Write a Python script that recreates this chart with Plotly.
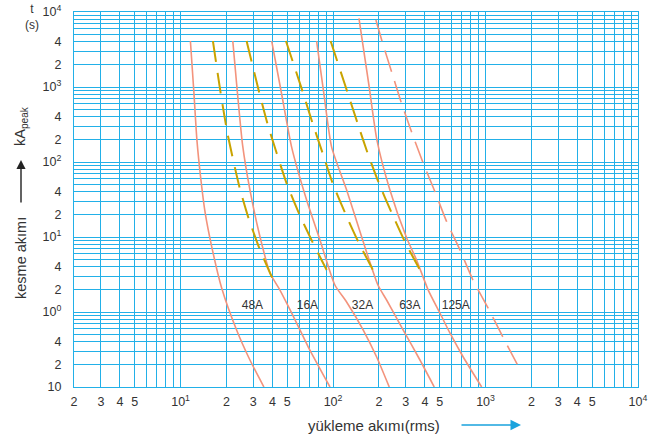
import plotly.graph_objects as go

# ---------------- data (current in A rms, time in s) ----------------
red_1_current = [11.6, 12.2, 12.8, 13.6, 14.5, 16.0, 18.6, 23.3, 28.5, 35.2]
red_1_time = [4100, 912, 196, 57.5, 20.9, 7.43, 2.09, 0.575, 0.229, 0.1]

red_2_current = [22.0, 23.6, 25.5, 28.5, 33.2, 38.6, 44.4, 48.4, 57.7, 68.8, 95.5]
red_2_time = [4100, 832, 169, 42.4, 10, 3.31, 2.03, 1.45, 0.713, 0.341, 0.1]

red_3_current = [39.6, 46.0, 53.5, 67.1, 82.1, 102.8, 122.7, 157.8, 193.2, 233.7]
red_3_time = [4100, 807, 158, 31.1, 9.12, 2.29, 1.36, 0.575, 0.251, 0.1]

red_4_current = [78.0, 87.1, 97.9, 122.8, 154.1, 196.9, 224.5, 288.6, 371.5, 461]
red_4_time = [4100, 807, 158, 42.4, 10, 2.29, 1.445, 0.575, 0.229, 0.1]

red_5_current = [147.9, 171.9, 194, 236, 304, 353, 421, 502, 584, 714, 943]
red_5_time = [8240, 1063, 196, 42.4, 9.7, 4.94, 1.96, 0.97, 0.525, 0.251, 0.1]

red_6_current = [191, 210, 242, 279, 327, 387, 466, 556, 680, 827, 1042, 1296, 1615]
red_6_time = [7820, 4018, 1600, 637, 253, 101, 40.2, 16.0, 6.71, 2.67, 1.12, 0.469, 0.201]

gold_1_current = [16.3, 18.3, 20.4, 24.3, 27.8, 32.7, 39.6, 42.9]
gold_1_time = [4100, 839, 229, 46.9, 18.3, 7.29, 2.96, 2.15]

gold_2_current = [27.1, 32.7, 37.0, 42.7, 49.6, 59.5, 73.1, 90.8]
gold_2_time = [4100, 865, 334, 130.6, 52.0, 21.1, 8.66, 3.63]

gold_3_current = [49.1, 63.2, 73.1, 85.5, 99.4, 119.7, 146.3, 182.7]
gold_3_time = [4100, 865, 338, 130.6, 52.0, 21.1, 8.66, 3.63]

gold_4_current = [96.4, 124, 144.2, 168.7, 200, 242, 296, 371.5]
gold_4_time = [4100, 865, 338, 130.6, 52.0, 21.1, 8.66, 3.63]

rating_labels = ["48A", "16A", "32A", "63A", "125A"]
rating_label_current = [29.6, 67.9, 156, 319, 638]
rating_label_time = [1.21, 1.21, 1.21, 1.21, 1.21]

x_decades = [0, 1, 2, 3]
y_decades = [-1, 0, 1, 2, 3]

# ---------------- styling ----------------
RED = "#f3937c"
GOLD = "#c9a300"
GRID = "#22b0e8"
TXT = "#333333"
FONT = "Liberation Sans, Arial, sans-serif"

W, H = 653, 439
L, R, T, B = 74, 15, 12, 52
PW, PH = W - L - R, H - T - B


def px(x):
    return (x - L) / PW


def py(y):
    return (H - B - y) / PH


fig = go.Figure()

solid = [(red_1_current, red_1_time), (red_2_current, red_2_time),
         (red_3_current, red_3_time), (red_4_current, red_4_time),
         (red_5_current, red_5_time)]
for cx, ty in solid:
    fig.add_trace(go.Scatter(x=cx, y=ty, mode="lines",
                             line=dict(color=RED, width=1.6, shape="spline", smoothing=0.6),
                             hoverinfo="skip"))

fig.add_trace(go.Scatter(x=red_6_current, y=red_6_time, mode="lines",
                         line=dict(color=RED, width=1.6, dash="22px,10px",
                                   shape="spline", smoothing=0.6),
                         hoverinfo="skip"))

for cx, ty in [(gold_1_current, gold_1_time), (gold_2_current, gold_2_time),
               (gold_3_current, gold_3_time), (gold_4_current, gold_4_time)]:
    fig.add_trace(go.Scatter(x=cx, y=ty, mode="lines",
                             line=dict(color=GOLD, width=2, dash="21px,11px",
                                       shape="spline", smoothing=0.6),
                             hoverinfo="skip"))

fig.add_trace(go.Scatter(x=rating_label_current, y=rating_label_time, mode="text",
                         text=rating_labels, textfont=dict(size=12, color=TXT, family=FONT),
                         hoverinfo="skip"))

# ticks
xt_vals, xt_text = [], []
for d in x_decades:
    for m in range(1, 10):
        v = m * 10 ** d
        if v < 2:
            continue
        xt_vals.append(v)
        if m == 1:
            xt_text.append(f"10<sup>{d}</sup>")
        elif m in (2, 3, 4, 5):
            xt_text.append(str(m))
        else:
            xt_text.append("")
xt_vals.append(10 ** 4)
xt_text.append("10<sup>4</sup>")

yt_vals, yt_text = [], []
for d in y_decades:
    for m in range(1, 10):
        v = m * 10.0 ** d
        yt_vals.append(v)
        if m == 1:
            yt_text.append("10" if d == -1 else f"10<sup>{d}</sup>")
        elif m in (2, 4):
            yt_text.append(str(m))
        else:
            yt_text.append("")
yt_vals.append(1e4)
yt_text.append("10<sup>4</sup>")

fig.update_xaxes(type="log", range=[0.30103, 4], tickvals=xt_vals, ticktext=xt_text,
                 showgrid=True, gridcolor=GRID, gridwidth=1.3, zeroline=False,
                 showline=True, linecolor=GRID, linewidth=1.3, mirror=True,
                 ticks="", ticklabelstandoff=3, automargin=False, tickangle=0,
                 tickfont=dict(size=12.5, color=TXT, family=FONT))
fig.update_yaxes(type="log", range=[-1, 4], tickvals=yt_vals, ticktext=yt_text,
                 showgrid=True, gridcolor=GRID, gridwidth=1.3, zeroline=False,
                 showline=True, linecolor=GRID, linewidth=1.3, mirror=True,
                 ticks="", ticklabelstandoff=9, automargin=False,
                 tickfont=dict(size=12.5, color=TXT, family=FONT))

ann = [
    dict(x=px(32), y=py(17), xref="paper", yref="paper", text="t<br>(s)", showarrow=False,
         font=dict(size=12, color=TXT, family=FONT), xanchor="center", yanchor="middle"),
    dict(x=px(21), y=py(258), xref="paper", yref="paper", text="kesme akımı", showarrow=False,
         textangle=-90, font=dict(size=14.5, color=TXT, family=FONT),
         xanchor="center", yanchor="middle"),
    dict(x=px(21), y=py(160), xref="paper", yref="paper", text="", showarrow=True,
         ax=0, ay=44, arrowhead=2, arrowsize=1.3, arrowwidth=1.4, arrowcolor="#222222",
         standoff=0),
    dict(x=px(21), y=py(126), xref="paper", yref="paper", text="kA<sub>peak</sub>",
         showarrow=False, textangle=-90, font=dict(size=14.5, color=TXT, family=FONT),
         xanchor="center", yanchor="middle"),
    dict(x=px(374), y=py(425), xref="paper", yref="paper", text="yükleme akımı(rms)",
         showarrow=False, font=dict(size=15, color=TXT, family=FONT),
         xanchor="center", yanchor="middle"),
    dict(x=px(521), y=py(425), xref="paper", yref="paper", text="", showarrow=True,
         ax=-61, ay=0, arrowhead=2, arrowsize=1.4, arrowwidth=1.5, arrowcolor="#1aa3dd",
         standoff=0),
]

fig.update_layout(width=W, height=H, autosize=False,
                  margin=dict(l=L, r=R, t=T, b=B),
                  paper_bgcolor="white", plot_bgcolor="white",
                  showlegend=False, annotations=ann,
                  font=dict(family=FONT, color=TXT))

fig.write_html("out.html", config={"displayModeBar": False},
               post_script="document.body.style.margin='0';")
